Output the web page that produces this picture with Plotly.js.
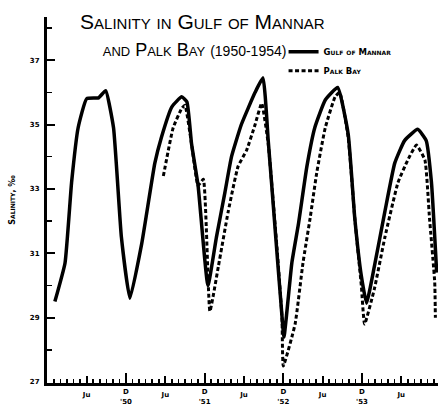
<!DOCTYPE html>
<html>
<head>
<meta charset="utf-8">
<script src="https://cdn.plot.ly/plotly-3.0.1.min.js"></script>
<style>html,body{margin:0;padding:0;background:#fff;}#chart{width:438px;height:409px;}</style>
</head>
<body>
<div id="chart"></div>
<script>
// Months counted from January 1950 (0 = Jan 1950)
const gulfMonths = [0.15, 1.7, 2.7, 3.7, 5.0, 6.8, 7.9, 9.1, 10.3, 11.6, 13.4, 15.4, 16.4, 18.0, 19.5, 20.3, 21.0, 22.0, 23.5, 24.8, 26.1, 27.1, 28.6, 30.7, 31.9, 32.7, 33.2, 34.0, 34.7, 35.1, 36.3, 37.3, 38.6, 39.8, 41.4, 43.3, 44.9, 45.9, 46.9, 47.7, 48.9, 50.5, 52.0, 53.5, 55.5, 56.8, 57.6, 58.4];
const gulfSalinity = [29.5, 30.7, 33.2, 34.9, 35.8, 35.83, 36.05, 34.9, 31.5, 29.6, 31.3, 33.8, 34.6, 35.55, 35.86, 35.7, 34.4, 33.1, 30.0, 31.5, 32.9, 34.0, 35.0, 36.0, 36.45, 34.5, 33.2, 31.1, 29.3, 28.4, 30.7, 31.9, 33.7, 34.9, 35.76, 36.15, 34.7, 32.1, 30.3, 29.45, 30.6, 32.3, 33.8, 34.5, 34.85, 34.5, 33.2, 30.4];

const palkMonths = [16.7, 18.2, 19.5, 20.0, 21.0, 22.0, 22.8, 23.8, 25.1, 26.6, 28.1, 29.4, 30.7, 31.7, 32.7, 33.3, 34.1, 34.8, 35.0, 36.8, 38.0, 39.1, 40.1, 41.4, 42.9, 43.6, 44.9, 45.9, 46.9, 47.4, 48.9, 50.5, 52.5, 54.0, 55.3, 56.6, 57.3, 58.1, 58.2];
const palkSalinity = [33.4, 34.9, 35.5, 35.6, 34.4, 33.1, 33.3, 29.2, 30.6, 32.3, 33.7, 34.2, 35.0, 35.66, 34.4, 33.0, 31.0, 29.0, 27.5, 28.8, 30.7, 32.1, 33.5, 34.9, 35.86, 36.0, 34.6, 32.1, 30.0, 28.8, 29.9, 31.5, 33.2, 33.9, 34.36, 33.9, 32.1, 30.1, 29.0];

const decTicks = [11, 23, 35, 47, 59];
const decLabels = ["D<br>'50", "D<br>'51", "D<br>'52", "D<br>'53", "D<br>'54"];
const junTicks = [5, 17, 29, 41, 53];
const junLabels = ["Ju", "Ju", "Ju", "Ju", "Ju"];
const yTicks = [27, 29, 31, 33, 35, 37];
const yLabels = ["27", "29", "31", "33", "35", "37"];
const yMinor = [28, 30, 32, 34, 36, 38];

const tickFont = {family: "DejaVu Sans", size: 7, color: "#000", weight: "bold"};

const traces = [
  {x: gulfMonths, y: gulfSalinity, type: "scatter", mode: "lines", name: "Gulf of Mannar",
   line: {color: "#000", width: 3.5, shape: "spline", smoothing: 0.4}},
  {x: palkMonths, y: palkSalinity, type: "scatter", mode: "lines", name: "Palk Bay",
   line: {color: "#000", width: 3, dash: "4px,2.5px", shape: "spline", smoothing: 0.4}},
  {x: [], y: [], xaxis: "x2", type: "scatter", mode: "lines", showlegend: false, hoverinfo: "skip"}
];

const xr = [-1.05, 58.6];
const layout = {
  width: 438, height: 409,
  margin: {l: 47, r: 0, t: 17, b: 26},
  paper_bgcolor: "#fff", plot_bgcolor: "#fff",
  showlegend: true,
  font: {family: "DejaVu Sans", color: "#000"},
  title: {
    text: "Salinity in Gulf of Mannar<br><span style='font-size:18px'>and Palk Bay </span><span style='font-size:14px'>(1950-1954)" + "\u00a0".repeat(4) + "</span>",
    x: 0.462, xanchor: "center", xref: "container",
    y: 0.93, yanchor: "top", yref: "container",
    font: {family: "Liberation Sans", size: 21, color: "#000", variant: "small-caps"}
  },
  legend: {
    x: 0.605, y: 0.945, xanchor: "left", yanchor: "top",
    bgcolor: "rgba(0,0,0,0)", borderwidth: 0,
    font: {family: "DejaVu Sans", size: 8.5, color: "#000", weight: "bold", variant: "small-caps"},
    itemwidth: 30, tracegroupgap: 0
  },
  xaxis: {
    range: xr, showgrid: false, zeroline: false,
    showline: true, linewidth: 3, linecolor: "#000",
    ticks: "inside", ticklen: 10, tickwidth: 2, tickcolor: "#000",
    tickmode: "array", tickvals: decTicks, ticktext: decLabels,
    tickfont: tickFont,
    minor: {dtick: 1, tick0: 0, ticks: "inside", ticklen: 4, tickwidth: 1.5, tickcolor: "#000", showgrid: false}
  },
  xaxis2: {
    range: xr, overlaying: "x", anchor: "y", side: "bottom",
    showgrid: false, zeroline: false, showline: false,
    ticks: "inside", ticklen: 7, tickwidth: 2, tickcolor: "#000",
    tickmode: "array", tickvals: junTicks, ticktext: junLabels,
    ticklabelstandoff: 6,
    tickfont: tickFont
  },
  yaxis: {
    range: [26.97, 38.34], showgrid: false, zeroline: false,
    showline: true, linewidth: 3, linecolor: "#000",
    ticks: "inside", ticklen: 8, tickwidth: 2, tickcolor: "#000",
    tickmode: "array", tickvals: yTicks, ticktext: yLabels,
    tickfont: tickFont, ticklabelstandoff: 3,
    minor: {tickvals: yMinor, ticks: "inside", ticklen: 5, tickwidth: 1.5, tickcolor: "#000", showgrid: false},
    title: {text: "Salinity, ‰", standoff: 14,
            font: {family: "DejaVu Sans", size: 8, color: "#000", weight: "bold", variant: "small-caps"}}
  }
};

Plotly.newPlot("chart", traces, layout, {staticPlot: true, displayModeBar: false});
</script>
</body>
</html>
